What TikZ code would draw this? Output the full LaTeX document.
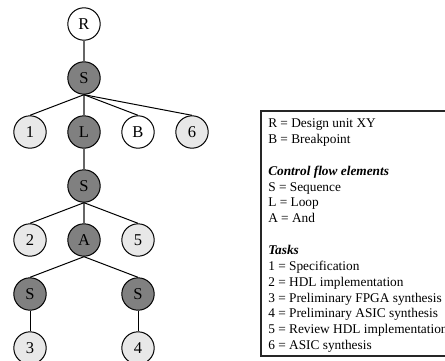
\documentclass[tikz,border=0pt]{standalone}
\usepackage{fontspec}
\setmainfont{Liberation Serif}
\begin{document}
\begin{tikzpicture}[x=0.75pt,y=-0.75pt,
  tnode/.style={circle,draw=black,line width=0.75pt,minimum size=24.3pt,inner sep=0pt,
    font=\fontsize{12.4}{14}\selectfont},
  ctrl/.style={tnode,fill=black!50},
  task/.style={tnode,fill=black!9},
  plain/.style={tnode,fill=white},
  spine/.style={draw=black!60,line width=1.3pt},
  branch/.style={draw=black,line width=0.75pt},
  legend/.style={anchor=base west,inner sep=0pt,font=\fontsize{10}{11.9}\selectfont},
  legendhead/.style={legend,font=\fontsize{10}{11.9}\selectfont\bfseries\itshape}]
\useasboundingbox (0,0) rectangle (445,360);
\clip (0,0) rectangle (445,360);

% tree nodes
\node[plain] (r)  at (84,24)  {R};
\node[ctrl]  (s1) at (84,78)  {S};
\node[task]  (t1) at (30,132) {1};
\node[ctrl]  (l)  at (84,132) {L};
\node[plain] (b)  at (138,132) {B};
\node[task]  (t6) at (192,132) {6};
\node[ctrl]  (s2) at (84,186) {S};
\node[task]  (t2) at (30,240) {2};
\node[ctrl]  (a)  at (84,240) {A};
\node[task]  (t5) at (138,240) {5};
\node[ctrl]  (s3) at (30,294) {S};
\node[ctrl]  (s4) at (138,294) {S};
\node[task]  (t3) at (30,348) {3};
\node[task]  (t4) at (138,348) {4};

% connectors
\draw[spine] (r.south) -- (s1.north);
\draw[spine] (s1.south) -- (l.north);
\draw[spine] (l.south) -- (s2.north);
\draw[spine] (s2.south) -- (a.north);
\draw[branch] (s1.south) -- (t1.north);
\draw[branch] (s1.south) -- (b.north);
\draw[branch] (s1.south) -- (t6.north);
\draw[branch] (s2.south) -- (t2.north);
\draw[branch] (s2.south) -- (t5.north);
\draw[branch] (a.south) -- (s3.north);
\draw[branch] (a.south) -- (s4.north);
\draw[branch] (s3.south) -- (t3.north);
\draw[branch] (s4.south) -- (t4.north);

% legend frame
\draw[line width=0.9pt,draw=black!85] (261,111) rectangle (470,356);

% legend text
\node[legend]     (k1)  at (268,127.5) {R = Design unit XY};
\node[legend]     (k2)  at (268,143.4) {B = Breakpoint};
\node[legendhead] (k3)  at (268,175.1) {Control flow elements};
\node[legend]     (k4)  at (268,191.0) {S = Sequence};
\node[legend]     (k5)  at (268,206.8) {L = Loop};
\node[legend]     (k6)  at (268,222.7) {A = And};
\node[legendhead] (k7)  at (268,254.4) {Tasks};
\node[legend]     (k8)  at (268,270.3) {1 = Specification};
\node[legend]     (k9)  at (268,286.1) {2 = HDL implementation};
\node[legend]     (k10) at (268,302.0) {3 = Preliminary FPGA synthesis};
\node[legend]     (k11) at (268,317.8) {4 = Preliminary ASIC synthesis};
\node[legend]     (k12) at (268,333.7) {5 = Review HDL implementation};
\node[legend]     (k13) at (268,349.5) {6 = ASIC synthesis};
\end{tikzpicture}
\end{document}
